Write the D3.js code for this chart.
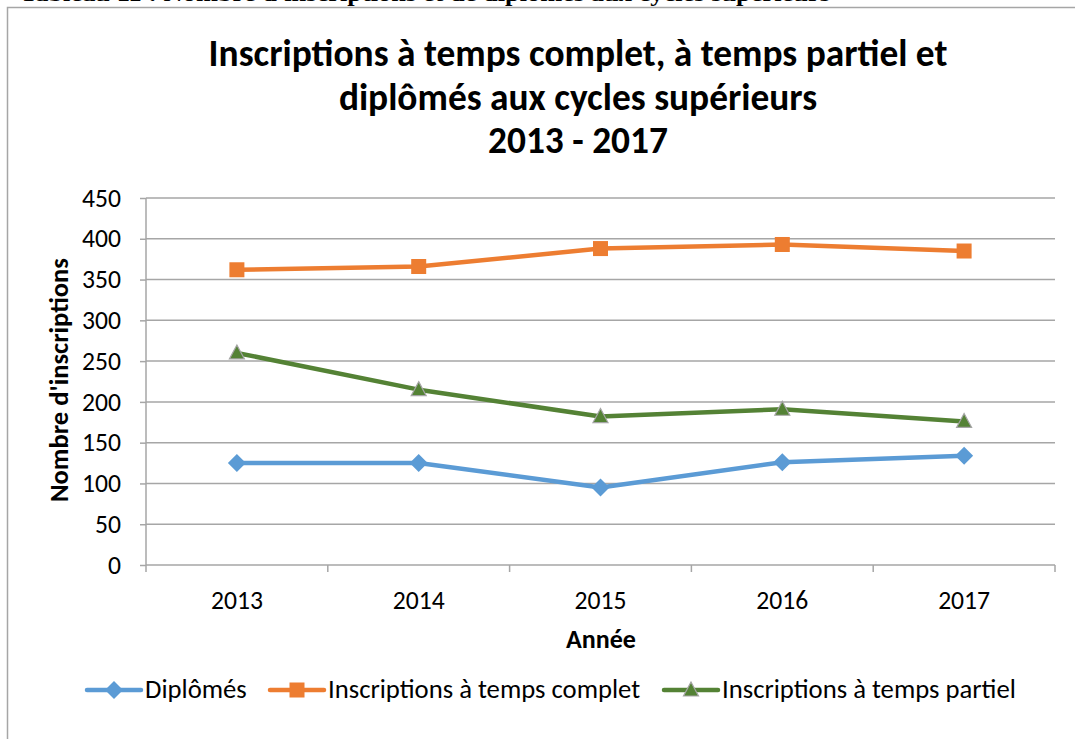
<!DOCTYPE html>
<html><head><meta charset="utf-8">
<script src="https://cdn.jsdelivr.net/npm/d3@7"></script>
<style>html,body{margin:0;padding:0;background:#fff;}svg{display:block;}</style>
</head><body>
<script>
const years = ["2013","2014","2015","2016","2017"];
const diplomes = [125,125,95,126,134];
const complet = [362,366,388,393,385];
const partiel = [260,215,182,191,176];
const yTicks = [0,50,100,150,200,250,300,350,400,450];
const seriesNames = ["Diplômés","Inscriptions à temps complet","Inscriptions à temps partiel"];
const titleLines = ["Inscriptions à temps complet, à temps partiel et","diplômés aux cycles supérieurs","2013 - 2017"];
const caption = "Tableau 11 : Nombre d'inscriptions et de diplômés aux cycles supérieurs";

const W=1075,H=739;
const svg=d3.select("body").append("svg").attr("width",W).attr("height",H);
const font="Carlito, Calibri, 'Open Sans', sans-serif";

function fit(sel, target){
  const node=sel.node();
  const fs=parseFloat(sel.attr("font-size"));
  const w=node.getComputedTextLength();
  const nfs=fs*target/w;
  sel.attr("font-size",nfs);
  return nfs;
}

// clipped caption at top
svg.append("text").attr("x",20).attr("y",0.5).attr("font-family","'Liberation Serif', serif")
  .attr("font-weight","bold").attr("font-size",21).attr("fill","#000")
  .attr("textLength",810).attr("lengthAdjust","spacingAndGlyphs")
  .text(caption);

// chart border
svg.append("rect").attr("x",7.5).attr("y",7.5).attr("width",W+10).attr("height",H+10)
  .attr("fill","none").attr("stroke","#a6a6a6").attr("stroke-width",1.5);

const x=d3.scaleBand().domain(years).range([146,1055]);
const y=d3.scaleLinear().domain([0,450]).range([565,198]);

const probe=svg.append("text").attr("font-family",font).attr("font-size",20).text(years[0]);
const tickFS=fit(probe,52);
probe.remove();

// gridlines
svg.append("g").selectAll("line").data(yTicks.filter(d=>d>0)).join("line")
  .attr("x1",146).attr("x2",1055).attr("y1",d=>y(d)).attr("y2",d=>y(d))
  .attr("stroke","#a6a6a6").attr("stroke-width",1.5);

// y axis
const ya=svg.append("g").attr("transform","translate(146,0)")
  .call(d3.axisLeft(y).tickValues(yTicks).tickSize(6).tickPadding(19));
ya.select(".domain").attr("stroke","#a6a6a6").attr("stroke-width",1.5).attr("d","M0,198V565");
ya.selectAll(".tick line").attr("stroke","#a6a6a6").attr("stroke-width",1.5);
ya.selectAll(".tick text").attr("font-family",font).attr("font-size",tickFS).attr("fill","#000");

// x axis
const xa=svg.append("g").attr("transform","translate(0,565)")
  .call(d3.axisBottom(x).tickSize(0).tickPadding(26));
xa.select(".domain").attr("stroke","#a6a6a6").attr("stroke-width",1.5).attr("d","M146,0H1055");
xa.selectAll(".tick text").attr("font-family",font).attr("font-size",tickFS).attr("fill","#000");
const bounds=years.map(d=>x(d)).concat([x.range()[1]]);
svg.append("g").selectAll("line").data(bounds).join("line")
  .attr("x1",d=>d).attr("x2",d=>d).attr("y1",565).attr("y2",572)
  .attr("stroke","#a6a6a6").attr("stroke-width",1.5);

// axis titles
const yt=svg.append("text").attr("transform","translate(68,380) rotate(-90)").attr("text-anchor","middle")
  .attr("font-family",font).attr("font-weight","bold").attr("font-size",20).text("Nombre d'inscriptions");
fit(yt,244);
const xt=svg.append("text").attr("x",601).attr("y",648).attr("text-anchor","middle")
  .attr("font-family",font).attr("font-weight","bold").attr("font-size",20).text("Année");
fit(xt,70);

// title
const tt=svg.append("g").selectAll("text").data(titleLines).join("text")
  .attr("x",578).attr("y",(d,i)=>66+i*43.5).attr("text-anchor","middle")
  .attr("font-family",font).attr("font-weight","bold").attr("font-size",31).attr("fill","#000")
  .text(d=>d);
const tfs=fit(d3.select(tt.nodes()[0]),739);
tt.attr("font-size",tfs);

const series=[
  {name:seriesNames[0],vals:diplomes,color:"#5b9bd5",shape:"diamond"},
  {name:seriesNames[1],vals:complet,color:"#ed7d31",shape:"square"},
  {name:seriesNames[2],vals:partiel,color:"#548235",shape:"triangle"}
];
const cx=d=>x(d)+x.bandwidth()/2;
function marker(g,s,px,py){
  if(s.shape==="diamond"){
    g.append("path").attr("d",`M${px},${py-9}L${px+9},${py}L${px},${py+9}L${px-9},${py}Z`).attr("fill",s.color);
  } else if(s.shape==="square"){
    g.append("rect").attr("x",px-7.5).attr("y",py-7.5).attr("width",15).attr("height",15).attr("fill",s.color);
  } else {
    g.append("path").attr("d",`M${px},${py-8}L${px+7.5},${py+6}L${px-7.5},${py+6}Z`)
      .attr("fill",s.color).attr("stroke","#a5a5a5").attr("stroke-width",1.2);
  }
}
const line=d3.line().x(d=>cx(d[0])).y(d=>y(d[1]));
series.forEach(s=>{
  const pts=years.map((yr,i)=>[yr,s.vals[i]]);
  svg.append("path").datum(pts).attr("d",line).attr("fill","none")
    .attr("stroke",s.color).attr("stroke-width",4.5).attr("stroke-linejoin","round");
  const g=svg.append("g");
  pts.forEach(p=>marker(g,s,cx(p[0]),y(p[1])));
});

// legend
const legX=[87,270,664];
series.forEach((s,i)=>{
  const g=svg.append("g");
  const ly=690;
  g.append("line").attr("x1",legX[i]).attr("x2",legX[i]+54).attr("y1",ly).attr("y2",ly)
    .attr("stroke",s.color).attr("stroke-width",4.5).attr("stroke-linecap","round");
  marker(g,s,legX[i]+27,ly);
  g.append("text").attr("class","legtext").attr("x",legX[i]+58).attr("y",ly+8).attr("font-family",font)
    .attr("font-size",20).attr("fill","#000").text(s.name);
});
const lts=svg.selectAll(".legtext");
const legFS=fit(d3.select(lts.nodes()[2]),294);
lts.attr("font-size",legFS);
</script>
</body></html>
